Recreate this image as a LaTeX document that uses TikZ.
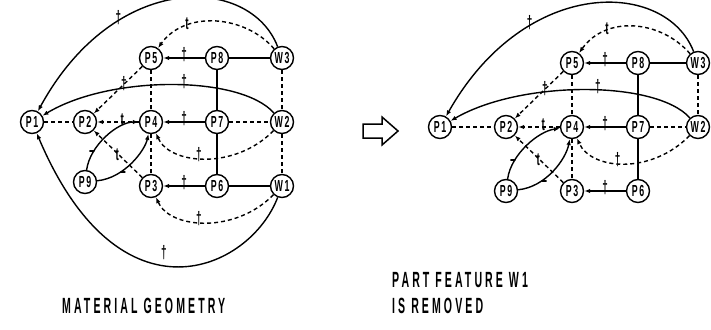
\documentclass[tikz,border=0pt]{standalone}
\usepackage{fontspec}
\setmainfont{Liberation Sans}
\newfontfamily\featfont[FakeStretch=0.55,LetterSpace=10]{Liberation Sans}
\newfontfamily\captfont[FakeStretch=0.48,LetterSpace=14]{Liberation Sans}
\usetikzlibrary{arrows.meta}

\begin{document}
\begin{tikzpicture}[
  x=1pt, y=-1pt,
  font=\featfont\bfseries\fontsize{16}{16}\selectfont,
  feat/.style={circle, draw, line width=1.4pt, inner sep=0pt, minimum size=23pt},
  link/.style={line width=1.4pt},
  dlink/.style={line width=1.4pt, dash pattern=on 4pt off 3pt},
  arr/.style={-{Latex[length=6pt,width=4.5pt]}},
  sgn/.style={font=\featfont\bfseries\fontsize{18}{18}\selectfont, inner sep=0.5pt},
  capt/.style={font=\captfont\bfseries\fontsize{22}{22}\selectfont, inner sep=0pt, anchor=base west}
]
  \useasboundingbox (0,0) rectangle (711,329);
  \clip (0,0) rectangle (711,329);

  % material geometry
  \node[feat] (P1) at (32,122) {P1};
  \node[feat] (P2) at (85,122) {P2};
  \node[feat] (P4) at (151,122) {P4};
  \node[feat] (P7) at (217,122) {P7};
  \node[feat] (W2) at (282,122) {W2};
  \node[feat] (P5) at (151,58) {P5};
  \node[feat] (P8) at (217,58) {P8};
  \node[feat] (W3) at (282,58) {W3};
  \node[feat] (P9) at (85,182) {P9};
  \node[feat] (P3) at (151,186) {P3};
  \node[feat] (P6) at (217,186) {P6};
  \node[feat] (W1) at (282,186) {W1};

  \draw[link] (P8) -- (W3);
  \draw[link] (P6) -- (W1);
  \draw[link] (P8) -- (P7);
  \draw[link] (P7) -- (P6);
  \draw[link,arr] (P8) -- node[sgn,above=-5pt] {†} (P5);
  \draw[link,arr] (P7) -- node[sgn,above=-5pt] {†} (P4);
  \draw[link,arr] (P6) -- node[sgn,above=-5pt] {†} (P3);
  \draw[dlink] (P1) -- (P2);
  \draw[dlink] (P5) -- (P4);
  \draw[dlink] (P4) -- (P3);
  \draw[dlink] (P7) -- (W2);
  \draw[dlink] (W3) -- (W2);
  \draw[dlink] (W2) -- (W1);
  \draw[dlink,arr] (P4) -- node[sgn,pos=.4,above=-5pt] {t} (P2);
  \draw[dlink,arr] (P5) -- node[sgn,pos=.42,above left=-6pt] {†} (P2);
  \draw[dlink,arr] (P3) -- node[sgn,pos=.45,above right=-6pt] {t} (P2);
  \draw[link,arr] (W3) .. controls (250,-25) and (115,-30) .. node[sgn,pos=.7,above left=-4pt] {†} (P1);
  \draw[dlink,arr] (W3) .. controls (245,15) and (185,10) .. node[sgn,pos=.72,above=-5pt] {t} (P5);
  \draw[link,arr] (W2) .. controls (240,75) and (110,75) .. node[sgn,pos=.45,above=-5pt] {†} (P1);
  \draw[dlink,arr] (W2) .. controls (235,170) and (170,165) .. node[sgn,pos=.55,above=-5pt] {†} (P4);
  \draw[dlink,arr] (W1) .. controls (235,234) and (170,229) .. node[sgn,pos=.55,above=-5pt] {†} (P3);
  \draw[link,arr] (W1) .. controls (250,270) and (120,330) .. node[sgn,pos=.55,above=4pt] {†} (P1);
  \draw[link,arr] (P9) .. controls (90,145) and (118,122) .. node[sgn,pos=.22] {−} (P4);
  \draw[link,arr] (P9) .. controls (125,178) and (145,150) .. node[sgn,pos=.35,below=0pt] {−} (P4);

  % step arrow
  \draw[line width=1.5pt] (363,124) -- (382,124) -- (382,117) -- (398,131)
    -- (382,145) -- (382,138) -- (363,138) -- cycle;

  % part feature W1 removed
  \begin{scope}[shift={(421,5)}]
    \node[feat] (Q1) at (19,122) {P1};
    \node[feat] (Q2) at (85,122) {P2};
    \node[feat] (Q4) at (151,122) {P4};
    \node[feat] (Q7) at (217,122) {P7};
    \node[feat] (V2) at (277,122) {W2};
    \node[feat] (Q5) at (151,58) {P5};
    \node[feat] (Q8) at (217,58) {P8};
    \node[feat] (V3) at (277,58) {W3};
    \node[feat] (Q9) at (85,186) {P9};
    \node[feat] (Q3) at (151,186) {P3};
    \node[feat] (Q6) at (217,186) {P6};

    \draw[link] (Q8) -- (V3);
    \draw[link] (Q8) -- (Q7);
    \draw[link] (Q7) -- (Q6);
    \draw[link,arr] (Q8) -- node[sgn,above=-5pt] {†} (Q5);
    \draw[link,arr] (Q7) -- node[sgn,above=-5pt] {†} (Q4);
    \draw[link,arr] (Q6) -- node[sgn,above=-5pt] {†} (Q3);
    \draw[dlink] (Q1) -- (Q2);
    \draw[dlink] (Q5) -- (Q4);
    \draw[dlink] (Q4) -- (Q3);
    \draw[dlink] (Q7) -- (V2);
    \draw[dlink] (V3) -- (V2);
    \draw[dlink,arr] (Q4) -- node[sgn,pos=.4,above=-5pt] {t} (Q2);
    \draw[dlink,arr] (Q5) -- node[sgn,pos=.42,above left=-6pt] {†} (Q2);
    \draw[dlink,arr] (Q3) -- node[sgn,pos=.45,above right=-6pt] {t} (Q2);
    \draw[link,arr] (V3) .. controls (245,-25) and (105,-30) .. node[sgn,pos=.7,above left=-4pt] {†} (Q1);
    \draw[dlink,arr] (V3) .. controls (240,15) and (185,10) .. node[sgn,pos=.72,above=-5pt] {t} (Q5);
    \draw[link,arr] (V2) .. controls (235,75) and (100,75) .. node[sgn,pos=.45,above=-5pt] {†} (Q1);
    \draw[dlink,arr] (V2) .. controls (230,170) and (170,165) .. node[sgn,pos=.55,above=-5pt] {†} (Q4);
    \draw[link,arr] (Q9) .. controls (90,149) and (118,126) .. node[sgn,pos=.22] {−} (Q4);
    \draw[link,arr] (Q9) .. controls (125,182) and (145,154) .. node[sgn,pos=.35,below=0pt] {−} (Q4);
  \end{scope}

  \node[capt] (capL) at (62,313) {MATERIAL GEOMETRY};
  \node[capt] (capR) at (392,287) {PART FEATURE W1};
  \node[capt] (capS) at (392,313) {IS REMOVED};
\end{tikzpicture}
\end{document}
